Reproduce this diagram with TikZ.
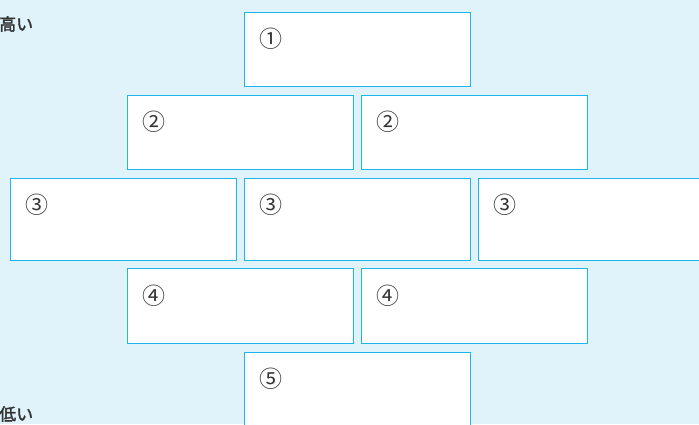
\documentclass[tikz,border=0pt]{standalone}
\usepackage{fontspec}
\setmainfont{Noto Sans CJK JP}
\newfontfamily\sidefont[FakeBold=1.8]{Noto Sans CJK JP}
\definecolor{bgblue}{HTML}{E0F2FA}
\definecolor{edgeblue}{HTML}{1CB6EC}
\definecolor{txt}{HTML}{333333}
\begin{document}
\begin{tikzpicture}[x=1pt,y=-1pt,
  tier/.style={draw=edgeblue,fill=white,line width=1pt,minimum width=226pt,minimum height=74pt,anchor=north west,inner sep=0pt},
  num/.style={text=txt,font=\fontsize{23}{23}\selectfont,anchor=center,inner sep=0pt},
  side/.style={text=txt,font=\sidefont\fontsize{17}{17}\selectfont,anchor=west,inner sep=0pt}]
\fill[bgblue] (0,0) rectangle (699,424);
\useasboundingbox (0,0) rectangle (699,424);
\begin{scope}
\clip (0,0) rectangle (699,424);
\node[tier] (b1) at (244,12) {};
\node[tier] (b2a) at (127,95) {};
\node[tier] (b2b) at (361,95) {};
\node[tier,minimum height=82pt] (b3a) at (10,178) {};
\node[tier,minimum height=82pt] (b3b) at (244,178) {};
\node[tier,minimum height=82pt] (b3c) at (478,178) {};
\node[tier,minimum height=75pt] (b4a) at (127,268) {};
\node[tier,minimum height=75pt] (b4b) at (361,268) {};
\node[tier,minimum height=80pt] (b5) at (244,352) {};
\end{scope}
\node[num] (n1) at (271,39) {①};
\node[num] (n2a) at (154,122) {②};
\node[num] (n2b) at (388,122) {②};
\node[num] (n3a) at (37,205) {③};
\node[num] (n3b) at (271,205) {③};
\node[num] (n3c) at (505,205) {③};
\node[num] (n4a) at (154,296) {④};
\node[num] (n4b) at (388,296) {④};
\node[num] (n5) at (271,379) {⑤};
\node[side] (hi) at (-1,24) {高い};
\node[side] (lo) at (-1,414) {低い};
\end{tikzpicture}
\end{document}
